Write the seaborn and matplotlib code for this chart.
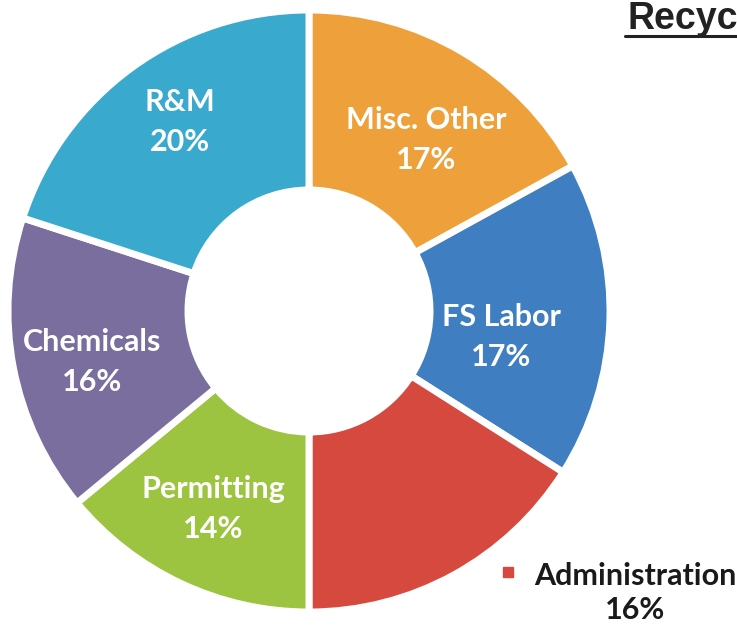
import matplotlib
matplotlib.use('Agg')
import matplotlib.pyplot as plt
from matplotlib.lines import Line2D
import seaborn as sns

# %%

categories = ['Misc. Other', 'FS Labor', 'Administration', 'Permitting', 'Chemicals', 'R&M']
shares = [17, 17, 16, 14, 16, 20]
colors = ['#EEA03A', '#3F7EC0', '#D5493E', '#9CC441', '#7A6E9E', '#3AA9CE']
title = 'Recyc'  # only this much of the title is visible in the source

# label centres in pixels from the top-left (inside labels), style only
label_xy = {'Misc. Other': (426, 140), 'FS Labor': (501, 337), 'Permitting': (213, 509),
            'Chemicals': (92, 362), 'R&M': (180, 122)}

# %%

sns.set_theme(style='white')
plt.rcParams['font.family'] = ['Lato', 'DejaVu Sans']

W, H = 737, 628
fig = plt.figure(figsize=(W / 100, H / 100), dpi=100)
ax = fig.add_axes([0, 0, 1, 1])

wedges, _ = ax.pie(shares, colors=colors, startangle=90, counterclock=False,
                   center=(309, H - 311), radius=301,
                   explode=[0.012] * len(shares),
                   wedgeprops=dict(width=180, edgecolor='white', linewidth=5),
                   frame=True)
ax.set_xlim(0, W)
ax.set_ylim(0, H)
ax.set_aspect('equal')
ax.axis('off')

for cat, s in zip(categories, shares):
    if cat in label_xy:
        x, y = label_xy[cat]
        ax.text(x, H - y, f'{cat}\n{s}%', color='white', fontsize=22, fontweight='bold',
                ha='center', va='center', linespacing=1.55)

# Administration label sits outside with a small key
adm = categories.index('Administration')
ax.text(635, H - 593, f'{categories[adm]}\n{shares[adm]}%', color='#1a1a1a',
        fontsize=22, fontweight='bold', ha='center', va='center', linespacing=1.3)
ax.plot([508], [H - 572], marker='s', markersize=7, color=colors[adm])

fig.text(627 / W, 1 - 29 / H, title, fontsize=27, fontweight='bold',
         family='Liberation Sans', color='#222222', ha='left', va='baseline')
fig.add_artist(Line2D([625 / W, 1.0], [1 - 36 / H] * 2, color='#222222', linewidth=2.2))

fig.savefig('out.png', dpi=100)
